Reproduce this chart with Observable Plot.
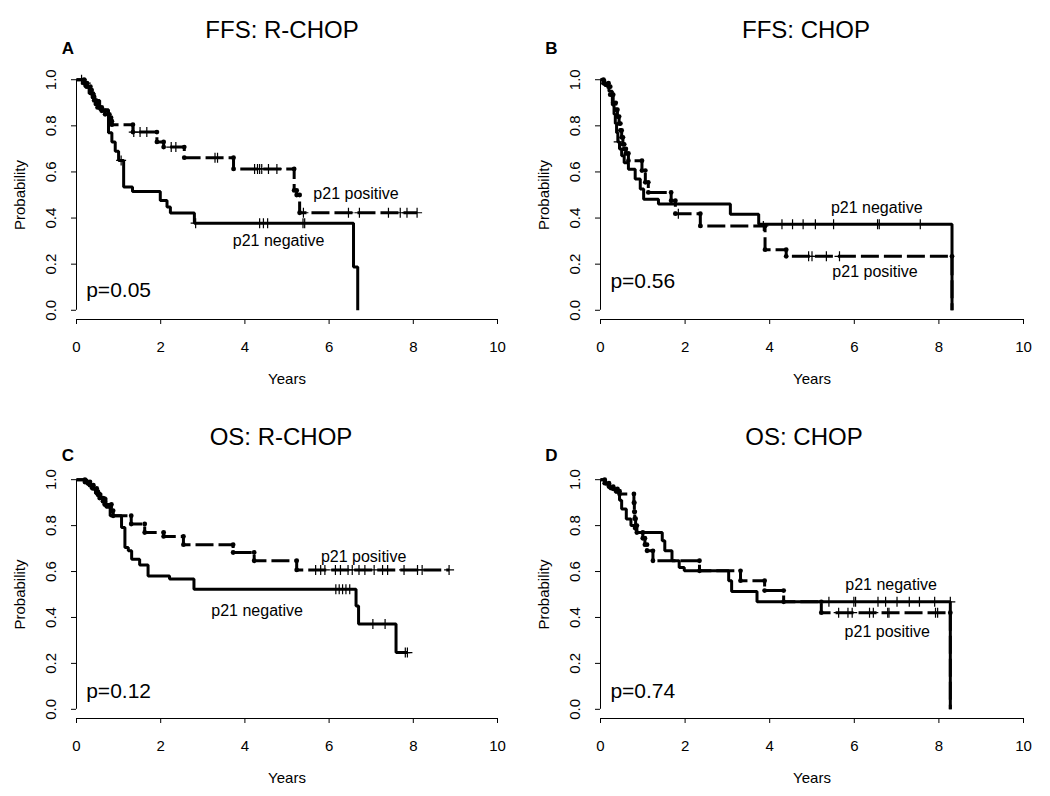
<!DOCTYPE html>
<html><head><meta charset="utf-8">
<script src="https://cdn.jsdelivr.net/npm/d3@7"></script>
<script src="https://cdn.jsdelivr.net/npm/@observablehq/plot@0.6"></script>
<style>
html,body{margin:0;padding:0;background:#fff;}
#root{position:relative;width:1050px;height:796px;background:#fff;overflow:hidden;}
#root > svg{position:absolute;}
</style></head><body><div id="root"></div>
<script>
// ---------- tick labels / text ----------
const xTicks = [0, 2, 4, 6, 8, 10];
const yTicks = [0, 0.2, 0.4, 0.6, 0.8, 1.0];
const panelLetters = ["A", "B", "C", "D"];
const panelTitles = ["FFS: R-CHOP", "FFS: CHOP", "OS: R-CHOP", "OS: CHOP"];
const pValues = ["p=0.05", "p=0.56", "p=0.12", "p=0.74"];
const groupNames = ["p21 negative", "p21 positive"];

// ---------- Kaplan-Meier data (event times, survival after event, censor times) ----------
// Panel A: FFS R-CHOP
const A_neg_t = [0, 0.2, 0.3, 0.42, 0.55, 0.76, 0.84, 0.92, 1.0, 1.12, 1.33, 1.99, 2.15, 2.23, 2.80, 6.58, 6.68];
const A_neg_s = [1, 0.97, 0.94, 0.91, 0.87, 0.77, 0.73, 0.69, 0.65, 0.535, 0.515, 0.476, 0.448, 0.422, 0.378, 0.188, 0];
const A_neg_c = [0.12, 1.06, 2.83, 4.35, 4.44, 4.54, 5.38, 5.42];
const A_pos_t = [0, 0.18, 0.25, 0.33, 0.36, 0.39, 0.42, 0.46, 0.5, 0.6, 0.68, 0.78, 0.82, 0.84, 1.34, 1.91, 2.07, 2.56, 3.73, 5.17, 5.23, 5.30];
const A_pos_s = [1, 0.985, 0.97, 0.955, 0.94, 0.925, 0.91, 0.895, 0.88, 0.865, 0.85, 0.835, 0.82, 0.805, 0.773, 0.730, 0.708, 0.662, 0.613, 0.52, 0.50, 0.423];
const A_pos_c = [0.22, 1.36, 1.51, 1.67, 2.25, 2.36, 3.29, 3.35, 4.23, 4.30, 4.35, 4.40, 4.56, 4.76, 5.39, 6.46, 6.72, 7.41, 7.69, 7.85, 8.09];
// Panel B: FFS CHOP
const B_neg_t = [0, 0.1, 0.2, 0.28, 0.32, 0.35, 0.38, 0.41, 0.45, 0.5, 0.56, 0.66, 0.82, 0.94, 1.02, 1.37, 3.07, 3.74, 8.31];
const B_neg_s = [1, 0.975, 0.95, 0.89, 0.85, 0.81, 0.77, 0.73, 0.70, 0.67, 0.64, 0.612, 0.569, 0.526, 0.482, 0.461, 0.416, 0.373, 0];
const B_neg_c = [0.43, 4.29, 4.54, 4.79, 5.08, 5.51, 6.55, 6.59, 7.56];
const B_pos_t = [0, 0.07, 0.19, 0.23, 0.3, 0.36, 0.4, 0.44, 0.47, 0.5, 0.53, 0.56, 0.6, 0.66, 0.98, 1.06, 1.13, 1.67, 1.77, 2.36, 3.89, 4.39, 8.31];
const B_pos_s = [1, 0.985, 0.97, 0.935, 0.90, 0.87, 0.84, 0.81, 0.78, 0.75, 0.72, 0.70, 0.68, 0.649, 0.606, 0.555, 0.511, 0.475, 0.419, 0.366, 0.263, 0.234, 0];
const B_pos_c = [1.84, 3.85, 4.92, 5.0, 5.34, 5.65];
// Panel C: OS R-CHOP
const C_neg_t = [0, 0.25, 0.35, 0.45, 0.58, 0.7, 0.8, 1.07, 1.15, 1.23, 1.31, 1.50, 1.70, 2.21, 2.79, 6.64, 6.70, 7.59];
const C_neg_s = [1, 0.98, 0.96, 0.94, 0.92, 0.88, 0.843, 0.792, 0.705, 0.69, 0.654, 0.629, 0.581, 0.567, 0.523, 0.45, 0.371, 0.247];
const C_neg_c = [6.16, 6.24, 6.32, 6.40, 6.49, 7.04, 7.33, 7.81, 7.86];
const C_pos_t = [0, 0.2, 0.32, 0.4, 0.48, 0.51, 0.55, 0.63, 0.67, 0.83, 0.87, 1.30, 1.62, 2.07, 2.54, 3.72, 4.22, 5.23];
const C_pos_s = [1, 0.99, 0.976, 0.962, 0.948, 0.934, 0.92, 0.906, 0.892, 0.865, 0.843, 0.807, 0.77, 0.753, 0.717, 0.683, 0.647, 0.607];
const C_pos_c = [5.68, 5.80, 5.90, 6.15, 6.27, 6.45, 6.55, 6.71, 6.85, 7.07, 7.27, 7.39, 7.78, 8.10, 8.21, 8.85];
// Panel D: OS CHOP
const D_neg_t = [0, 0.12, 0.22, 0.35, 0.45, 0.5, 0.61, 0.72, 0.8, 0.85, 1.46, 1.52, 1.69, 1.86, 1.98, 3.03, 3.10, 3.70, 8.27];
const D_neg_s = [1, 0.98, 0.96, 0.945, 0.91, 0.872, 0.829, 0.80, 0.785, 0.77, 0.734, 0.69, 0.647, 0.618, 0.603, 0.56, 0.513, 0.468, 0];
const D_neg_c = [5.40, 5.99, 6.03, 6.56, 6.74, 7.01, 7.30, 7.54, 7.90, 8.27];
const D_pos_t = [0, 0.1, 0.2, 0.3, 0.4, 0.45, 0.79, 0.8, 0.81, 0.83, 0.86, 1.0, 1.05, 1.1, 1.24, 2.34, 3.31, 3.88, 4.33, 5.22, 8.27];
const D_pos_s = [1, 0.985, 0.97, 0.96, 0.95, 0.938, 0.90, 0.86, 0.83, 0.80, 0.77, 0.745, 0.717, 0.69, 0.647, 0.603, 0.56, 0.517, 0.468, 0.421, 0];
const D_pos_c = [5.63, 5.85, 5.95, 6.36, 6.45, 6.79, 6.82, 7.92, 7.97];

// ---------- annotation anchors (data coordinates: years, probability) ----------
const negLabelAt = [[4.80, 0.303], [6.53, 0.445], [4.29, 0.429], [6.87, 0.542]];
const posLabelAt = [[6.64, 0.507], [6.49, 0.165], [6.82, 0.664], [6.78, 0.337]];
const pValueAt = [[1.0, 0.085], [1.0, 0.125], [1.0, 0.08], [1.0, 0.08]];

// ---------- layout ----------
const series = [
  [{t: A_neg_t, s: A_neg_s, c: A_neg_c}, {t: A_pos_t, s: A_pos_s, c: A_pos_c}],
  [{t: B_neg_t, s: B_neg_s, c: B_neg_c}, {t: B_pos_t, s: B_pos_s, c: B_pos_c}],
  [{t: C_neg_t, s: C_neg_s, c: C_neg_c}, {t: C_pos_t, s: C_pos_s, c: C_pos_c}],
  [{t: D_neg_t, s: D_neg_s, c: D_neg_c}, {t: D_pos_t, s: D_pos_s, c: D_pos_c}]
];
const layout = [
  {left: 0,   top: 0,   ml: 76, mr: 28, mt: 70, mb: 79, titleDx: -5, titleDy: -40, letterDx: -8.5, letterDy: -22},
  {left: 525, top: 0,   ml: 75, mr: 27, mt: 70, mb: 79, titleDx: -6, titleDy: -40, letterDx: -49,  letterDy: -22},
  {left: 0,   top: 398, ml: 76, mr: 28, mt: 72, mb: 78, titleDx: -6, titleDy: -33, letterDx: -8.5, letterDy: -15},
  {left: 525, top: 398, ml: 75, mr: 27, mt: 72, mb: 78, titleDx: -8, titleDy: -33, letterDx: -49,  letterDy: -15}
];

const FONT = "'Liberation Sans', Arial, Helvetica, sans-serif";

const plusSymbol = {
  draw(ctx, size) {
    const r = Math.sqrt(size / Math.PI);
    ctx.moveTo(-r, 0); ctx.lineTo(r, 0);
    ctx.moveTo(0, -r); ctx.lineTo(0, r);
  }
};

function stepPoints(ser) {
  const pts = ser.t.map((t, i) => ({t, s: ser.s[i]}));
  const lastT = ser.t[ser.t.length - 1];
  const maxC = Math.max(...ser.c);
  if (maxC > lastT) pts.push({t: maxC, s: ser.s[ser.s.length - 1]});
  return pts;
}
function survAt(ser, c) {
  let s = 1;
  for (let i = 0; i < ser.t.length; i++) if (ser.t[i] < c) s = ser.s[i];
  return s;
}
function censorPoints(ser) {
  return ser.c.map(c => ({t: c, s: survAt(ser, c)}));
}
function cornerDots(ser) {
  const out = [];
  for (let i = 1; i < ser.t.length; i++) {
    out.push({t: ser.t[i], s: ser.s[i - 1]});
    if (ser.s[i] > 0) out.push({t: ser.t[i], s: ser.s[i]});
  }
  return out;
}

const root = document.getElementById("root");

panelTitles.forEach((title, k) => {
  const L = layout[k];
  const [neg, pos] = series[k];
  const svg = Plot.plot({
    width: 525,
    height: 398,
    marginLeft: L.ml, marginRight: L.mr, marginTop: L.mt, marginBottom: L.mb,
    x: {domain: [0, 10]},
    y: {domain: [-0.04, 1.04]},
    style: {fontFamily: FONT, fontSize: "15px", color: "#000", background: "transparent", overflow: "visible"},
    marks: [
      // axes (R style)
      Plot.ruleX([0], {y1: yTicks[0], y2: yTicks[yTicks.length - 1], stroke: "#000", strokeWidth: 1}),
      Plot.ruleY([-0.04], {x1: xTicks[0], x2: xTicks[xTicks.length - 1], stroke: "#000", strokeWidth: 1}),
      Plot.axisX({ticks: xTicks, tickSize: 5, tickPadding: 17, tickFormat: d => String(d), label: null, fontSize: 15}),
      Plot.axisY({ticks: yTicks, tickSize: 5, tickFormat: () => "", label: null}),
      Plot.text(yTicks, {y: d => d, text: d => d.toFixed(1), frameAnchor: "left", dx: -25, rotate: -90, textAnchor: "middle", lineAnchor: "middle", fontSize: 15}),
      Plot.text(["Years"], {text: d => d, frameAnchor: "bottom", dy: 59.5, textAnchor: "middle", lineAnchor: "middle", fontSize: 15}),
      Plot.text(["Probability"], {text: d => d, frameAnchor: "left", dx: -56, rotate: -90, textAnchor: "middle", lineAnchor: "middle", fontSize: 15}),
      Plot.text([title], {text: d => d, frameAnchor: "top", dx: L.titleDx, dy: L.titleDy, textAnchor: "middle", lineAnchor: "middle", fontSize: 24}),
      Plot.text([panelLetters[k]], {text: d => d, frameAnchor: "top-left", dx: L.letterDx, dy: L.letterDy, fontSize: 17, fontWeight: "bold", textAnchor: "middle", lineAnchor: "middle"}),
      // curves
      Plot.line(stepPoints(neg), {x: "t", y: "s", curve: "step-after", stroke: "#000", strokeWidth: 3, strokeLinecap: "butt", strokeLinejoin: "miter"}),
      Plot.line(stepPoints(pos), {x: "t", y: "s", curve: "step-after", stroke: "#000", strokeWidth: 3, strokeDasharray: "18,5", strokeLinecap: "butt", strokeLinejoin: "miter"}),
      Plot.dot(cornerDots(pos), {x: "t", y: "s", r: 2.4, fill: "#000", stroke: "none"}),
      Plot.dot(censorPoints(neg), {x: "t", y: "s", r: 5, symbol: plusSymbol, stroke: "#000", fill: "none", strokeWidth: 1.2}),
      Plot.dot(censorPoints(pos), {x: "t", y: "s", r: 5, symbol: plusSymbol, stroke: "#000", fill: "none", strokeWidth: 1.2}),
      // annotations
      Plot.text([negLabelAt[k]], {x: d => d[0], y: d => d[1], text: () => groupNames[0], fontSize: 16, textAnchor: "middle", lineAnchor: "middle"}),
      Plot.text([posLabelAt[k]], {x: d => d[0], y: d => d[1], text: () => groupNames[1], fontSize: 16, textAnchor: "middle", lineAnchor: "middle"}),
      Plot.text([pValueAt[k]], {x: d => d[0], y: d => d[1], text: () => pValues[k], fontSize: 21, textAnchor: "middle", lineAnchor: "middle"})
    ]
  });
  svg.style.position = "absolute";
  svg.style.left = L.left + "px";
  svg.style.top = L.top + "px";
  root.appendChild(svg);
});
</script>
</body></html>
